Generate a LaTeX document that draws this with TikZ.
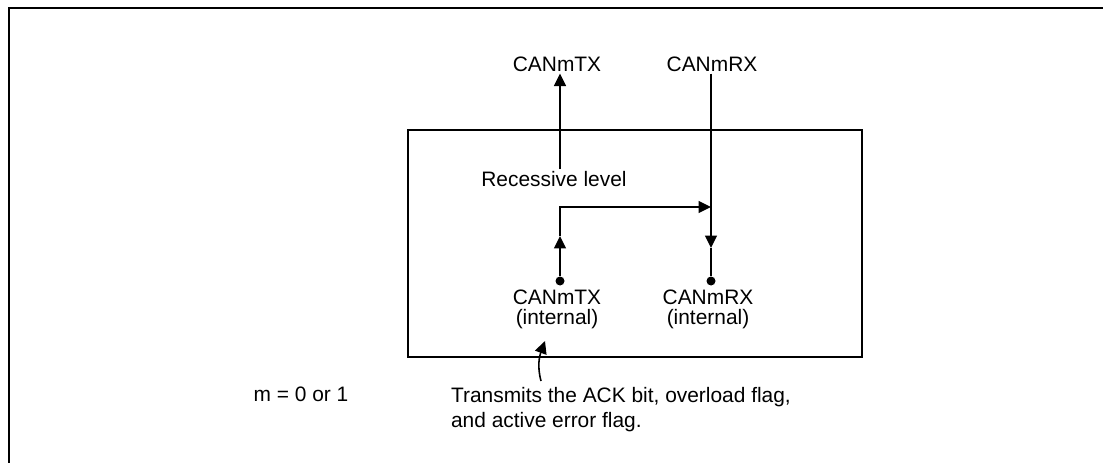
\documentclass[tikz,border=0pt]{standalone}
\usepackage{fontspec}
\setmainfont{Liberation Sans}
\usetikzlibrary{arrows.meta}

\begin{document}
\begin{tikzpicture}[
  x=0.02cm, y=-0.02cm,
  font=\fontsize{11.9}{11.4}\selectfont,
  lbl/.style={inner sep=1pt, align=center},
  sig/.style={line width=0.9pt},
  sigarrow/.style={sig, -{Triangle[length=0.25cm, width=0.24cm]}},
  pindot/.style={circle, fill, inner sep=0pt, minimum size=0.18cm},
]
\useasboundingbox (0,0) rectangle (1103,463);

% ---- Frames ----
\draw[line width=1.6pt] (1103,8) -- (9,8) -- (9,463);
\draw[line width=1.1pt] (408,130) rectangle (862,357);

% ---- Nodes ----
\node[lbl] (txpin)  at (557,64)  {CANmTX};
\node[lbl] (rxpin)  at (712,64)  {CANmRX};
\node[lbl] (reclvl) at (554,179) {Recessive level};

\node[pindot] (txdot) at (560,281) {};
\node[pindot] (rxdot) at (711,281) {};

\node[lbl, anchor=north] (txint) at (557,288) {CANmTX\\(internal)};
\node[lbl, anchor=north] (rxint) at (708,288) {CANmRX\\(internal)};

\node[lbl, anchor=north west, align=left, font=\fontsize{11.9}{14.2}\selectfont]
  (note) at (449,385) {Transmits the ACK bit, overload flag,\\and active error flag.};
\node[lbl] (mnote) at (301,394) {m = 0 or 1};

% ---- Bends and free ends ----
\coordinate (txmid)    at (560,236);
\coordinate (txbend)   at (560,207);
\coordinate (branch)   at (711,207);
\coordinate (rxmid)    at (711,248);
\coordinate (notetail) at (541,381);
\coordinate (notetip)  at (545,341);

% ---- Connectors ----
\draw[sigarrow] (reclvl.north -| txdot) -- (txpin.south -| txdot);
\draw[sigarrow] (rxpin.south -| rxdot) -- (rxmid);
\draw[sig] (rxmid) -- (rxdot);
\draw[sigarrow] (txdot) -- (txmid);
\draw[sigarrow] (txmid) -- (txbend) -- (branch);
\draw[sigarrow] (notetail) to[out=105, in=250] (notetip);

\end{tikzpicture}
\end{document}
